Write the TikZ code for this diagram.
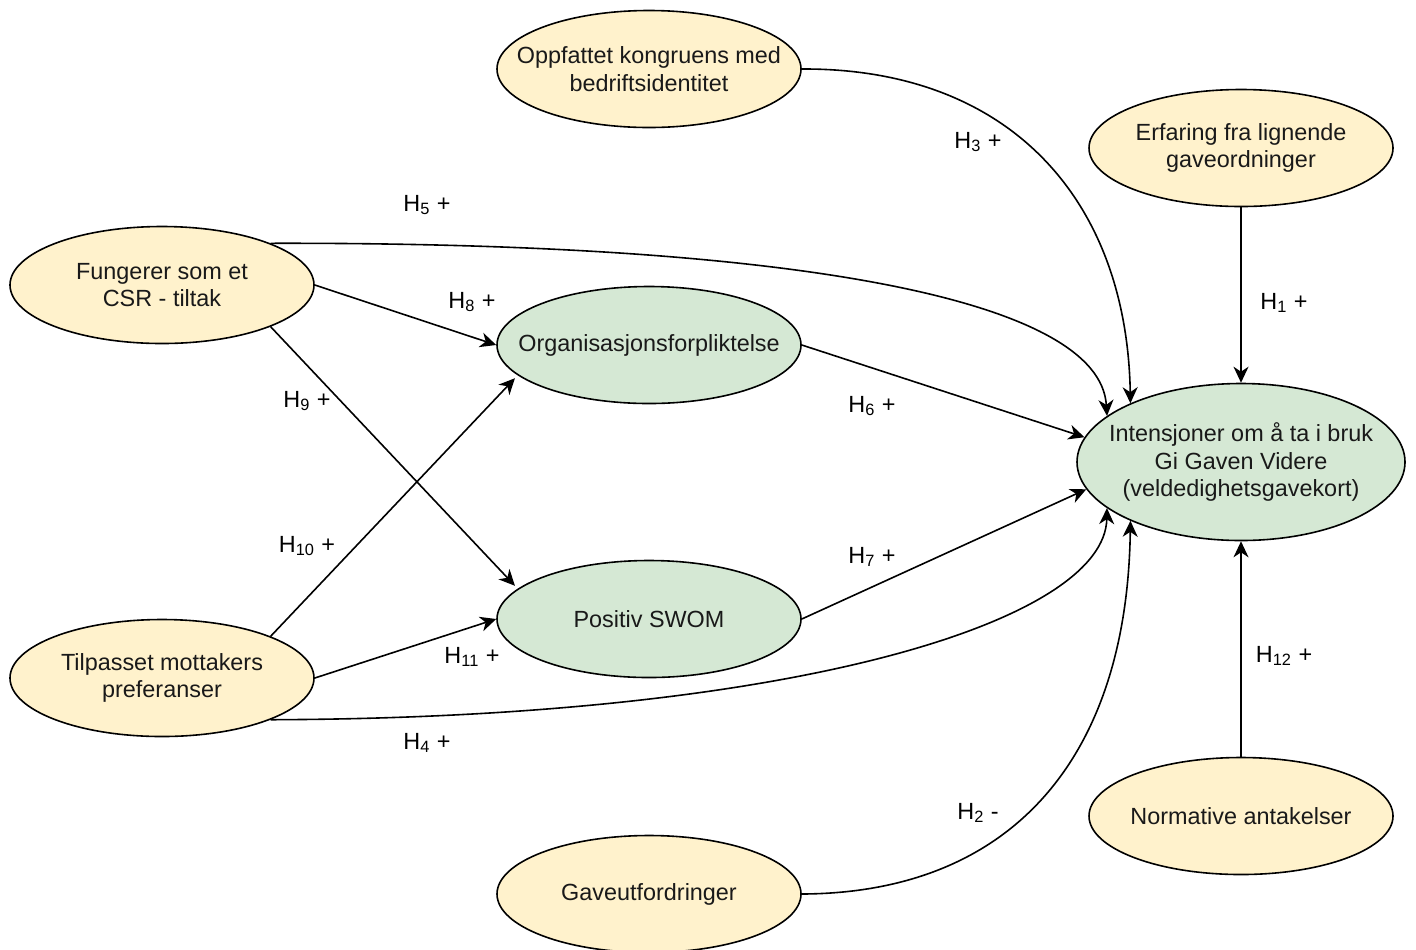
\documentclass[tikz,border=0pt]{standalone}
\usepackage{fontspec}
\setmainfont{Liberation Sans}
\usetikzlibrary{shapes.geometric,arrows.meta}
\definecolor{yel}{HTML}{FFF2CC}
\definecolor{grn}{HTML}{D5E8D4}
\begin{document}
\begin{tikzpicture}[x=0.5pt,y=-0.5pt,
 every node/.style={font=\fontsize{11.7}{13.75}\selectfont, text=black!90},
 ell/.style={ellipse, draw, line width=0.8pt, inner xsep=-14pt, inner ysep=0pt, minimum width=152pt, minimum height=58.5pt, align=center},
 yb/.style={ell, fill=yel},
 gb/.style={ell, fill=grn},
 arr/.style={-{Stealth[length=8pt,width=7.5pt,inset=2.5pt]}, line width=0.8pt},
 lab/.style={inner sep=0pt, text=black}]
\useasboundingbox (0,0) rectangle (1416,949);

% nodes
\node[yb] (opp) at (649,69) {Oppfattet kongruens med\\bedriftsidentitet};
\node[yb] (erf) at (1241,148) {Erfaring fra lignende\\gaveordninger};
\node[yb] (fun) at (162,285) {Fungerer som et\\CSR - tiltak};
\node[gb] (org) at (649,345) {Organisasjonsforpliktelse};
\node[gb, minimum width=164pt, minimum height=78.5pt] (int) at (1241,462) {Intensjoner om å ta i bruk\\Gi Gaven Videre\\(veldedighetsgavekort)};
\node[gb] (swom) at (649,619) {Positiv SWOM};
\node[yb] (til) at (162,678) {Tilpasset mottakers\\preferanser};
\node[yb] (nor) at (1241,816) {Normative antakelser};
\node[yb] (gav) at (649,894) {Gaveutfordringer};

% connectors
\draw[arr] (opp.east) .. controls (1010,68) and (1127,200) .. (int.152.6);
\draw[arr] (erf.south) -- (int.north);
\draw[arr] (fun.21.3) .. controls (800,242) and (1100,300) .. (int.161.9);
\draw[arr] (fun.east) -- (org.west);
\draw[arr, shorten >=2pt] (fun.-21.3) -- (swom.167);
\draw[arr, shorten >=2pt] (til.21.7) -- (org.-167);
\draw[arr] (til.east) -- (swom.west);
\draw[arr] (til.-21.3) .. controls (800,718) and (1105,620) .. (int.-161.3);
\draw[arr] (org.east) -- (int.171.4);
\draw[arr] (swom.east) -- (int.-170.7);
\draw[arr] (gav.east) .. controls (1010,893) and (1127,760) .. (int.-152.6);
\draw[arr] (nor.north) -- (int.south);

% labels
\node[lab] (l3) at (978,142) {H\textsubscript{3} +};
\node[lab] (l5) at (427,205) {H\textsubscript{5} +};
\node[lab] (l8) at (472,302) {H\textsubscript{8} +};
\node[lab] (l9) at (307,401) {H\textsubscript{9} +};
\node[lab] (l10) at (307,546) {H\textsubscript{10} +};
\node[lab] (l11) at (472,657) {H\textsubscript{11} +};
\node[lab] (l4) at (427,743) {H\textsubscript{4} +};
\node[lab] (l6) at (872,406) {H\textsubscript{6} +};
\node[lab] (l7) at (872,557) {H\textsubscript{7} +};
\node[lab] (l2) at (978,813) {H\textsubscript{2} -};
\node[lab] (l1) at (1284,303) {H\textsubscript{1} +};
\node[lab] (l12) at (1284,656) {H\textsubscript{12} +};
\end{tikzpicture}
\end{document}
